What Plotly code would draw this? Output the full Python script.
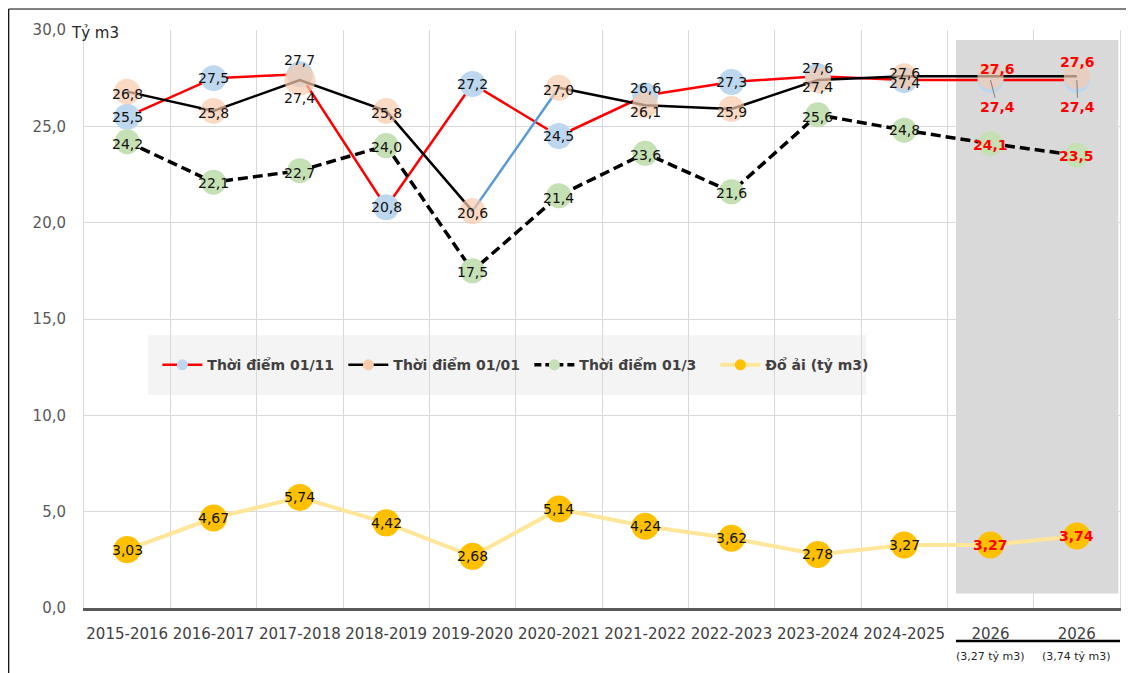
import plotly.graph_objects as go

# ---------------- data ----------------
seasons = ["2015-2016", "2016-2017", "2017-2018", "2018-2019", "2019-2020", "2020-2021",
           "2021-2022", "2022-2023", "2023-2024", "2024-2025", "2026", "2026"]
sub_labels = ["", "", "", "", "", "", "", "", "", "", "(3,27 tỷ m3)", "(3,74 tỷ m3)"]
v_0111 = [25.5, 27.5, 27.7, 20.8, 27.2, 24.5, 26.6, 27.3, 27.6, 27.4, 27.4, 27.4]
v_0101 = [26.8, 25.8, 27.4, 25.8, 20.6, 27.0, 26.1, 25.9, 27.4, 27.6, 27.6, 27.6]
v_0103 = [24.2, 22.1, 22.7, 24.0, 17.5, 21.4, 23.6, 21.6, 25.6, 24.8, 24.1, 23.5]
v_doai = [3.03, 4.67, 5.74, 4.42, 2.68, 5.14, 4.24, 3.62, 2.78, 3.27, 3.27, 3.74]
names = ["Thời điểm 01/11", "Thời điểm 01/01", "Thời điểm 01/3", "Đổ ải (tỷ m3)"]
forecast_idx = [10, 11]
blue_seg = (4, 5)  # segment of the 01/01 line drawn in blue

x = list(range(len(seasons)))
FONT = "DejaVu Sans"

# ---------------- styles ----------------
RED = "#FF0000"
BLUE_M = "#BDD7EE"
ORANGE_M = "#F8CBAD"
GREEN_M = "#C5E0B4"
GOLD_M = "#FFC000"
GOLD_L = "#FFE699"
SEG_BLUE = "#5B9BD5"
NOLINE = dict(width=0)

fig = go.Figure()

# 01/11 : red line, blue markers
fig.add_trace(go.Scatter(x=x, y=v_0111, mode="lines+markers", showlegend=False,
                         line=dict(color=RED, width=2.5),
                         marker=dict(color=BLUE_M, size=26, line=NOLINE)))

# blue segment of 01/01
a, b = blue_seg
fig.add_trace(go.Scatter(x=x[a:b + 1], y=v_0101[a:b + 1], mode="lines", showlegend=False,
                         line=dict(color=SEG_BLUE, width=2.5), hoverinfo="skip"))

# 01/01 : black line (gap where blue), orange markers
xb = x[:b] + [None] + x[b:]
yb = v_0101[:b] + [None] + v_0101[b:]
osz = [26] * len(x)
osz[2] = 31
oszb = osz[:b] + [0] + osz[b:]
fig.add_trace(go.Scatter(x=xb, y=yb, mode="lines+markers", showlegend=False, connectgaps=False,
                         line=dict(color="#000000", width=2.5),
                         marker=dict(color=ORANGE_M, size=oszb, line=NOLINE)))

# 01/3 : dashed black, green markers
fig.add_trace(go.Scatter(x=x, y=v_0103, mode="lines+markers", showlegend=False,
                         line=dict(color="#000000", width=3.5, dash="10px,5px"),
                         marker=dict(color=GREEN_M, size=25, line=NOLINE)))

# Do ai : light yellow line, gold markers
fig.add_trace(go.Scatter(x=x, y=v_doai, mode="lines+markers", showlegend=False,
                         line=dict(color=GOLD_L, width=4),
                         marker=dict(color=GOLD_M, size=27, line=NOLINE)))

# legend-only entries
leg_styles = [
    dict(line=dict(color=RED, width=2.5), marker=dict(color=BLUE_M, size=11, line=NOLINE)),
    dict(line=dict(color="#000000", width=2.5), marker=dict(color=ORANGE_M, size=11, line=NOLINE)),
    dict(line=dict(color="#000000", width=3.5, dash="7px,4px"), marker=dict(color=GREEN_M, size=11, line=NOLINE)),
    dict(line=dict(color=GOLD_L, width=4), marker=dict(color=GOLD_M, size=11, line=NOLINE)),
]
for nm, st in zip(names, leg_styles):
    fig.add_trace(go.Scatter(x=[None], y=[None], mode="lines+markers", name=nm, **st))

# ---------------- data labels ----------------
def fmt(v, d):
    return f"{v:.{d}f}".replace(".", ",")

ann = []

def add_labels(vals, dec, yshifts, xshifts, arrows=None):
    for i, v in enumerate(vals):
        fc = i in forecast_idx
        font = dict(family=FONT, size=14, color=RED if fc else "#111111")
        txt = f"<b>{fmt(v, dec)}</b>" if fc else fmt(v, dec)
        if arrows and i in arrows:
            ax, ay = arrows[i]
            ann.append(dict(x=x[i], y=v, xref="x", yref="y", text=txt, font=font,
                            showarrow=True, arrowhead=0, arrowwidth=1, arrowcolor="#7F7F7F",
                            ax=ax, ay=ay, standoff=0, startstandoff=0))
        else:
            ann.append(dict(x=x[i], y=v, xref="x", yref="y", text=txt, font=font,
                            showarrow=False, xshift=xshifts[i], yshift=yshifts[i]))

add_labels(v_0111, 1, [0, 0, 14, 0, 0, 0, 8, 0, 8, -3, 0, 0],
           [0] * 12, arrows={10: (7, 27), 11: (1, 27)})
add_labels(v_0101, 1, [-2, -2, -18, -2, -2, -2, -7, -3, -7, 3, 7, 14],
           [0, 0, 0, 0, 0, 0, 0, 0, 0, 0, 7, 1])
add_labels(v_0103, 1, [-2, -1, -2, -1, -1, -2, -2, -1, -2, 0, -1, -1], [0] * 12)
add_labels(v_doai, 2, [0] * 12, [0] * 12)

# sub labels under the last ticks
for i, s in enumerate(sub_labels):
    if s:
        ann.append(dict(x=x[i], y=-0.0986, xref="x", yref="paper", text=s, showarrow=False,
                        font=dict(family=FONT, size=11, color="#262626")))

# unit label
ann.append(dict(x=-0.0145, y=0.995, xref="paper", yref="paper", text="Tỷ m3", showarrow=False,
                xanchor="left", yanchor="middle", font=dict(family=FONT, size=15, color="#262626")))

# ---------------- shapes ----------------
shapes = [
    dict(type="rect", xref="x", yref="y", x0=9.6, x1=11.48, y0=0.75, y1=29.48,
         fillcolor="#D9D9D9", line=dict(width=0), layer="below"),
    dict(type="rect", xref="paper", yref="paper", x0=0.0618, x1=0.755, y0=0.3685, y1=0.472,
         fillcolor="#F4F4F4", line=dict(width=0), layer="below"),
    dict(type="line", xref="x", yref="paper", x0=9.6, x1=11.5, y0=-0.057, y1=-0.057,
         line=dict(color="#000000", width=2.5)),
    dict(type="line", xref="paper", yref="paper", x0=-0.0727, x1=-0.0727, y0=-0.2, y1=1.0363,
         line=dict(color="#000000", width=1.2)),
    dict(type="line", xref="paper", yref="paper", x0=-0.0727, x1=1.05, y0=1.0363, y1=1.0363,
         line=dict(color="#000000", width=1)),
]

fig.update_layout(
    width=1126, height=665,
    margin=dict(l=76, r=14, t=22, b=65),
    paper_bgcolor="white", plot_bgcolor="rgba(0,0,0,0)",
    separators=", ",
    font=dict(family=FONT, size=15, color="#404040"),
    showlegend=True,
    legend=dict(orientation="h", x=0.0708, y=0.42, xanchor="left", yanchor="middle",
                bgcolor="rgba(0,0,0,0)", itemwidth=40, entrywidth=131, entrywidthmode="pixels",
                font=dict(family=FONT, size=14, color="#404040", weight="bold"),
                itemclick=False),
    annotations=ann,
    shapes=shapes,
    xaxis=dict(range=[-0.5, 11.5], tickmode="array", tickvals=x, ticktext=seasons,
               showgrid=False, zeroline=False, showline=True, linecolor="#595959", linewidth=3,
               ticks="", ticklabelstandoff=10,
               tickfont=dict(family=FONT, size=15, color="#404040"),
               minor=dict(showgrid=True, tick0=0.5, dtick=1, gridcolor="#D9D9D9", gridwidth=1)),
    yaxis=dict(range=[0, 30], dtick=5, tickformat=".1f", showgrid=True, gridcolor="#D9D9D9",
               zeroline=False, showline=True, linecolor="#D9D9D9", mirror=True,
               ticks="", ticklabelstandoff=14,
               tickfont=dict(family=FONT, size=15, color="#595959")),
)

fig.write_html("out.html")
